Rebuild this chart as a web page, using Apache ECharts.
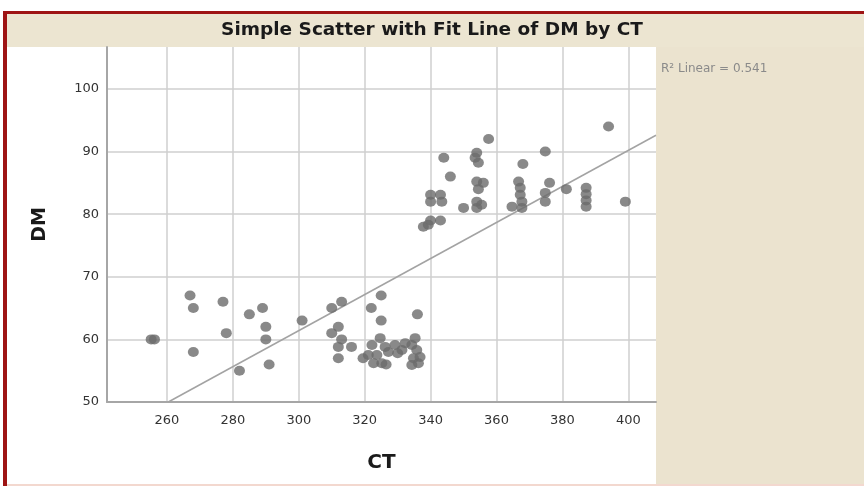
<!DOCTYPE html>
<html>
<head>
<meta charset="utf-8">
<title>Simple Scatter with Fit Line of DM by CT</title>
<script src="https://cdn.jsdelivr.net/npm/echarts@6/dist/echarts.min.js"></script>
<style>
  html, body { margin: 0; padding: 0; background: #fff; }
  #chart { width: 864px; height: 486px; }
</style>
</head>
<body>
<div id="chart"></div>
<script>
// CT / DM pairs
const ct = [
  255.2, 256.2, 267, 268, 268, 277, 278, 282, 285, 289, 290, 290, 291, 301,
  310, 313, 310, 312, 313, 312, 316, 312, 325, 322, 325, 336, 319.5,
  324.7, 322.2, 326.2, 321.1, 323.7, 327.2, 322.7, 325.2, 326.5,
  329.2, 331.3, 330, 332.3,
  335.3, 334.3, 335.8, 334.8, 336.3, 334.3, 336.8,
  337.8, 339.3, 340, 343, 340, 340, 343, 343.4, 344, 346, 350,
  354, 353.5, 354.5, 354, 356, 354.5, 354, 354, 355.5, 357.6,
  364.7, 366.7, 367.2, 367.2, 367.7, 367.7, 368,
  374.8, 376.1, 374.8, 374.8, 381.2,
  387.2, 387.2, 387.2, 387.2, 394, 399.1
]
const dm = [
  60, 60, 67, 65, 58, 66, 61, 55, 64, 65, 62, 60, 56, 63,
  65, 66, 61, 62, 60, 58.8, 58.8, 57, 67, 65, 63, 64, 57,
  60.2, 59.1, 58.8, 57.5, 57.5, 58, 56.2, 56.2, 56,
  59.1, 58.3, 57.8, 59.4,
  60.2, 59.1, 58.3, 57, 56.2, 55.9, 57.2,
  78, 78.3, 79, 79, 83.1, 82, 83.1, 82, 89, 86, 81,
  89.8, 89, 88.2, 85.2, 85, 84, 82, 81, 81.5, 92,
  81.2, 85.2, 84.2, 83.1, 82, 81, 88,
  90, 85, 83.4, 82, 84,
  84.2, 83.2, 82.2, 81.2, 94, 82
]
// fit line end points (as drawn)
const fitCT = [260.4, 408.4]
const fitDM = [50, 92.6]

const xTicks = [260, 280, 300, 320, 340, 360, 380, 400]
const yTicks = [50, 60, 70, 80, 90, 100]

const points = ct.map((c, i) => [c, dm[i]])
const fitLine = fitCT.map((c, i) => [c, fitDM[i]])

const chart = echarts.init(document.getElementById('chart'))
const font = '"DejaVu Sans", Verdana, sans-serif'

const option = {
  backgroundColor: '#ffffff',
  animation: false,
  textStyle: { fontFamily: font },
  grid: { left: 107, right: 208, top: 47, bottom: 84, containLabel: false },
  graphic: [
    // title band
    { type: 'rect', z: -10, shape: { x: 6, y: 13, width: 858, height: 34 }, style: { fill: '#ece5d1' } },
    // right panel
    { type: 'rect', z: -10, shape: { x: 656, y: 47, width: 208, height: 439 }, style: { fill: '#ebe3cf' } },
    // red frame
    { type: 'rect', z: -5, shape: { x: 3, y: 11, width: 861, height: 3 }, style: { fill: '#9e1414' } },
    { type: 'rect', z: -5, shape: { x: 3, y: 11, width: 4, height: 475 }, style: { fill: '#9e1414' } },
    { type: 'rect', z: -5, shape: { x: 7, y: 484, width: 857, height: 2 }, style: { fill: '#f3d8cf' } },
    {
      type: 'text', left: 'center', top: 21,
      style: { text: 'Simple Scatter with Fit Line of DM by CT', font: 'bold 18.5px ' + font, fill: '#1a1a1a' }
    },
    {
      type: 'text', left: 661, top: 63,
      style: { text: 'R² Linear = 0.541', font: '12px ' + font, fill: '#8a8a8a' }
    }
  ],
  xAxis: {
    type: 'value',
    min: 241.8,
    max: 408.4,
    name: 'CT',
    nameLocation: 'middle',
    nameGap: 51,
    nameTextStyle: { fontSize: 20, fontWeight: 'bold', color: '#1a1a1a' },
    axisLine: { lineStyle: { color: '#a6a6a6', width: 2 } },
    axisTick: { show: false, customValues: xTicks },
    axisLabel: { customValues: xTicks, color: '#333', fontSize: 13, margin: 12 },
    splitLine: { show: true, lineStyle: { color: '#cfcfcf', width: 1.5 } }
  },
  yAxis: {
    type: 'value',
    min: 50,
    max: 106.7,
    name: 'DM',
    nameLocation: 'middle',
    nameGap: 57,
    nameTextStyle: { fontSize: 19, fontWeight: 'bold', color: '#1a1a1a' },
    axisLine: { show: true, lineStyle: { color: '#a6a6a6', width: 2 } },
    axisTick: { show: false, customValues: yTicks },
    axisLabel: { customValues: yTicks, color: '#333', fontSize: 13, margin: 8 },
    splitLine: { show: true, lineStyle: { color: '#cfcfcf', width: 1.5 } }
  },
  series: [
    {
      name: 'fit',
      type: 'line',
      data: fitLine,
      symbol: 'none',
      lineStyle: { color: '#a3a3a3', width: 1.5 },
      z: 1
    },
    {
      name: 'DM',
      type: 'scatter',
      data: points,
      symbolSize: [11, 10],
      itemStyle: { color: '#6b6b6b' },
      z: 3
    }
  ]
}

chart.setOption(option)
</script>
</body>
</html>
